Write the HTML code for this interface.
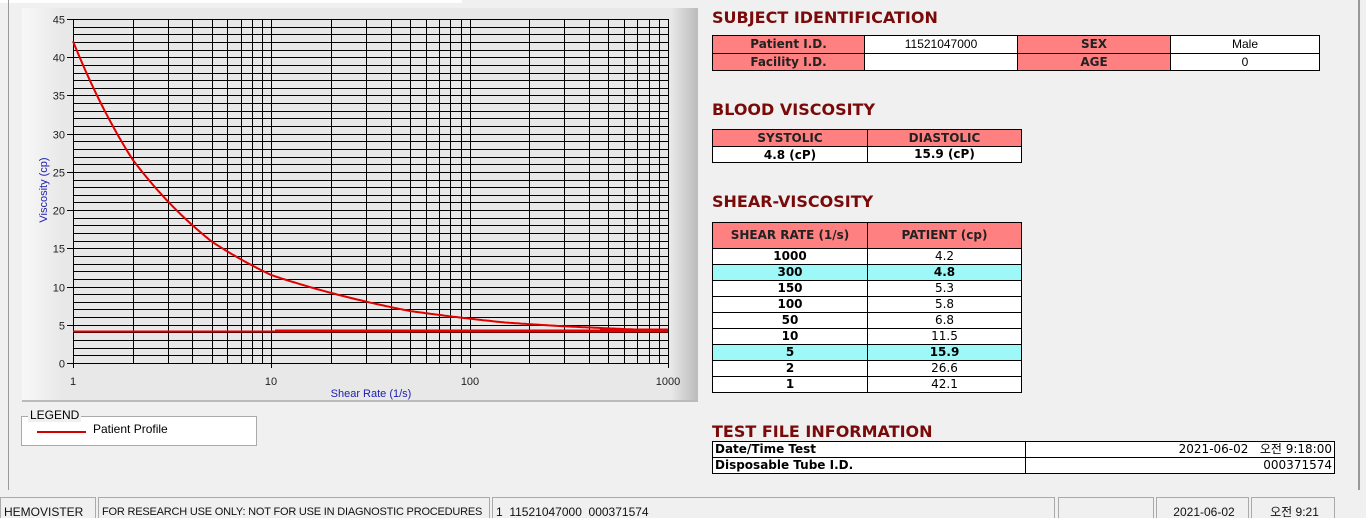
<!DOCTYPE html>
<html><head><meta charset="utf-8"><style>
html,body{margin:0;width:1366px;height:518px;overflow:hidden;}
body{background:#f0f0f0;position:relative;font-family:"Liberation Sans","Noto Sans CJK KR",sans-serif;}
.a{position:absolute;box-sizing:border-box;}
.h{position:absolute;color:#7a0a0a;font-weight:bold;font-size:16px;font-family:"DejaVu Sans","Liberation Sans",sans-serif;}
table{position:absolute;border-collapse:collapse;table-layout:fixed;font-family:"DejaVu Sans","Liberation Sans",sans-serif;font-size:12px;}
td{border:1px solid #000;padding:0;text-align:center;height:15px;line-height:15px;overflow:hidden;white-space:nowrap;}
.p{background:#ff8080;font-weight:bold;color:#222;}
.w{background:#fff;}
.c{background:#9ff8f8;font-weight:bold;}
.sb{position:absolute;top:497px;height:21px;border:1px solid #aaa;border-bottom:none;font-size:12px;line-height:28px;padding-left:3px;box-sizing:border-box;color:#111;white-space:nowrap;overflow:hidden;}
</style></head><body>
<div class="a" style="left:0;top:0;width:462px;height:3px;background:#fff"></div>
<div class="a" style="left:8px;top:0;width:1px;height:490px;background:#999"></div>
<div class="a" style="left:1358px;top:0;width:2px;height:490px;background:#999"></div>
<div class="a" style="left:22px;top:8px;width:676px;height:394px;background:linear-gradient(90deg,#f8f8f8,#e8e8e8 6%,#e8e8e8 96%,#bbb);border-bottom:2px solid #bbb;"></div>
<svg class="a" style="left:0;top:0" width="700" height="405">
<g id="grid" stroke="#000" stroke-width="1" shape-rendering="crispEdges"></g>
<text x="47" y="190" transform="rotate(-90 47 190)" font-size="11" fill="#2020b0" text-anchor="middle" font-family="Liberation Sans">Viscosity (cp)</text>
<text x="371" y="397" font-size="11" fill="#2020b0" text-anchor="middle" font-family="Liberation Sans">Shear Rate (1/s)</text>
<g font-size="11" fill="#222" font-family="Liberation Sans" text-anchor="end" id="yl"></g>
<g font-size="11" fill="#222" font-family="Liberation Sans" text-anchor="middle">
<text x="73" y="385">1</text><text x="271" y="385">10</text><text x="470" y="385">100</text><text x="668" y="385">1000</text></g>
<polyline id="cv" fill="none" stroke="#e00000" stroke-width="2" points=""/>
<line x1="73" y1="331.5" x2="668" y2="331.5" stroke="#e00000" stroke-width="2"/>
<line x1="275" y1="330.5" x2="668" y2="330.5" stroke="#e00000" stroke-width="2"/>
<line x1="600" y1="329.5" x2="668" y2="329.5" stroke="#e00000" stroke-width="2"/>
</svg>
<script>
(function(){var g=document.getElementById('grid'),yl=document.getElementById('yl'),s='',t='';
for(var v=0;v<=45;v++){var y=Math.round(363-v*7.644)+0.5;s+='<line x1="73" x2="668" y1="'+y+'" y2="'+y+'"/>';
if(v%5==0){s+='<line x1="67" x2="73" y1="'+y+'" y2="'+y+'"/>';t+='<text x="65" y="'+(y+4)+'">'+v+'</text>';}}
for(var d=0;d<3;d++)for(var k=1;k<=10;k++){if(k==10&&d<2)continue;var x=Math.round(73+(d+Math.log10(k))*198.33)+0.5;s+='<line y1="19" y2="363" x1="'+x+'" x2="'+x+'"/>';if(k==1||k==10)s+='<line y1="363" y2="368" x1="'+x+'" x2="'+x+'"/>';}
g.innerHTML=s;yl.innerHTML=t;
var X=[1,2,5,10,50,100,150,300,1000],V=[42.1,26.6,15.9,11.5,6.8,5.8,5.3,4.8,4.2];
var lx=X.map(Math.log10),lv=V.map(Math.log10),p=[];
for(var px=73;px<=668;px+=2){var L=(px-73)/198.33,i=0;while(i<lx.length-2&&L>lx[i+1])i++;
var f=(L-lx[i])/(lx[i+1]-lx[i]),val=Math.pow(10,lv[i]+f*(lv[i+1]-lv[i]));p.push(px+','+(363-val*7.644).toFixed(1));}
document.getElementById('cv').setAttribute('points',p.join(' '));})();
</script>
<div class="a" style="left:21px;top:416px;width:236px;height:30px;border:1px solid #aaa;background:#fff"></div>
<div class="a" style="left:28px;top:408px;background:#f0f0f0;padding:0 2px;font-size:12px">LEGEND</div>
<div class="a" style="left:37px;top:431px;width:49px;height:2px;background:#d00000"></div>
<div class="a" style="left:93px;top:422px;font-size:12px">Patient Profile</div>

<div class="h" style="left:712px;top:8px">SUBJECT IDENTIFICATION</div>
<table style="left:712px;top:35px;width:608px">
<tr><td class="p" style="width:151px;height:17px">Patient I.D.</td><td class="w" style="width:152px;font-family:'Liberation Sans'">11521047000</td><td class="p" style="width:152px">SEX</td><td class="w" style="font-family:'Liberation Sans'">Male</td></tr>
<tr><td class="p" style="height:16px">Facility I.D.</td><td class="w"></td><td class="p">AGE</td><td class="w" style="font-family:'Liberation Sans'">0</td></tr></table>

<div class="h" style="left:712px;top:100px">BLOOD VISCOSITY</div>
<table style="left:712px;top:129px;width:310px">
<tr><td class="p" style="width:154px;height:16px">SYSTOLIC</td><td class="p">DIASTOLIC</td></tr>
<tr><td class="w" style="font-weight:bold;height:14px;line-height:14px">4.8 (cP)</td><td class="w" style="font-weight:bold">15.9 (cP)</td></tr></table>

<div class="h" style="left:712px;top:192px">SHEAR-VISCOSITY</div>
<table style="left:712px;top:222px;width:310px">
<tr><td class="p" style="width:154px;height:25px">SHEAR RATE (1/s)</td><td class="p">PATIENT (cp)</td></tr>
<tr><td class="w"><b>1000</b></td><td class="w">4.2</td></tr>
<tr><td class="c">300</td><td class="c">4.8</td></tr>
<tr><td class="w"><b>150</b></td><td class="w">5.3</td></tr>
<tr><td class="w"><b>100</b></td><td class="w">5.8</td></tr>
<tr><td class="w"><b>50</b></td><td class="w">6.8</td></tr>
<tr><td class="w"><b>10</b></td><td class="w">11.5</td></tr>
<tr><td class="c">5</td><td class="c">15.9</td></tr>
<tr><td class="w"><b>2</b></td><td class="w">26.6</td></tr>
<tr><td class="w"><b>1</b></td><td class="w">42.1</td></tr></table>

<div class="h" style="left:712px;top:422px">TEST FILE INFORMATION</div>
<table style="left:712px;top:441px;width:623px">
<tr><td class="w" style="width:310px;text-align:left;font-weight:bold;padding-left:2px">Date/Time Test</td><td class="w" style="text-align:right;padding-right:2px">2021-06-02&nbsp;&nbsp; 오전 9:18:00</td></tr>
<tr><td class="w" style="text-align:left;font-weight:bold;padding-left:2px">Disposable Tube I.D.</td><td class="w" style="text-align:right;padding-right:2px">000371574</td></tr></table>

<div class="sb" style="left:0;width:96px">HEMOVISTER</div>
<div class="sb" style="left:98px;width:392px;font-size:11px;letter-spacing:-0.2px">FOR RESEARCH USE ONLY: NOT FOR USE IN DIAGNOSTIC PROCEDURES</div>
<div class="sb" style="left:492px;width:563px">1&nbsp; 11521047000&nbsp; 000371574</div>
<div class="sb" style="left:1058px;width:96px"></div>
<div class="sb" style="left:1156px;width:93px;text-align:center">2021-06-02</div>
<div class="sb" style="left:1251px;width:84px;text-align:center">오전 9:21</div>
</body></html>
